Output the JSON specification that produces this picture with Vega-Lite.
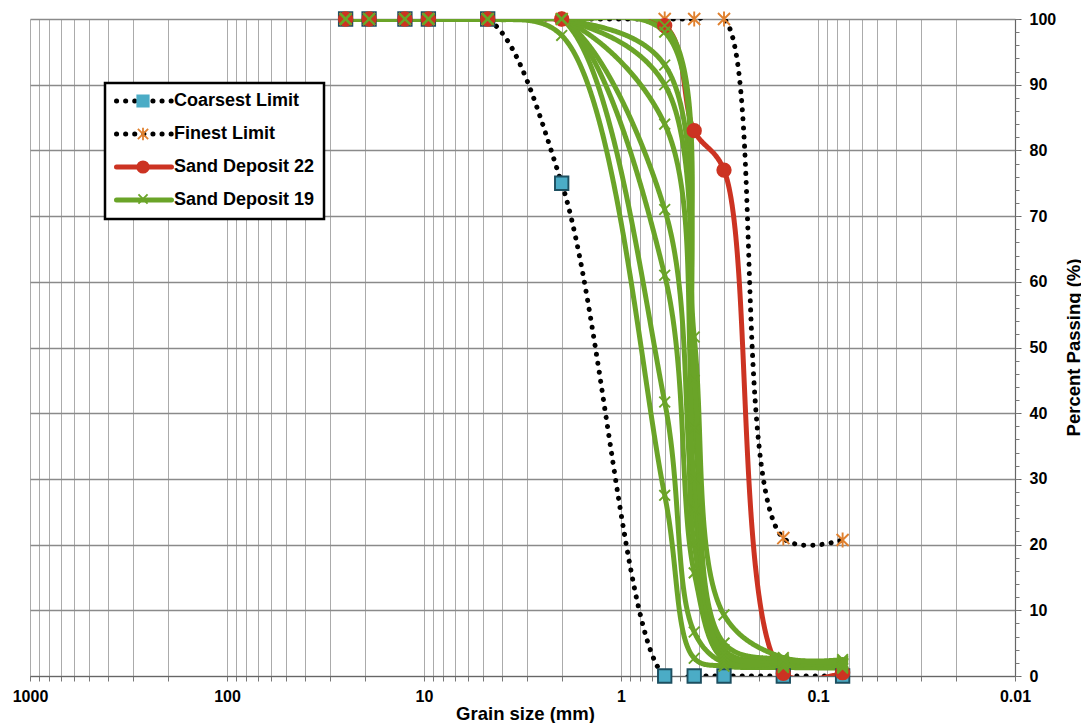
{
  "$schema": "https://vega.github.io/schema/vega-lite/v6.json",
  "width": 985,
  "height": 657,
  "autosize": {"type": "none"},
  "padding": {"left": 30, "top": 19, "right": 66, "bottom": 47},
  "background": "white",
  "config": {"view": {"stroke": null}},
  "data": {"values": [
    {"series": "Coarsest Limit", "curve": "C", "size": 25, "pct": 100},
    {"series": "Coarsest Limit", "curve": "C", "size": 19, "pct": 100},
    {"series": "Coarsest Limit", "curve": "C", "size": 12.5, "pct": 100},
    {"series": "Coarsest Limit", "curve": "C", "size": 9.5, "pct": 100},
    {"series": "Coarsest Limit", "curve": "C", "size": 4.75, "pct": 100},
    {"series": "Coarsest Limit", "curve": "C", "size": 2, "pct": 75},
    {"series": "Coarsest Limit", "curve": "C", "size": 0.6, "pct": 0},
    {"series": "Coarsest Limit", "curve": "C", "size": 0.425, "pct": 0},
    {"series": "Coarsest Limit", "curve": "C", "size": 0.3, "pct": 0},
    {"series": "Coarsest Limit", "curve": "C", "size": 0.15, "pct": 0},
    {"series": "Coarsest Limit", "curve": "C", "size": 0.075, "pct": 0},
    {"series": "Finest Limit", "curve": "F", "size": 25, "pct": 100},
    {"series": "Finest Limit", "curve": "F", "size": 19, "pct": 100},
    {"series": "Finest Limit", "curve": "F", "size": 12.5, "pct": 100},
    {"series": "Finest Limit", "curve": "F", "size": 9.5, "pct": 100},
    {"series": "Finest Limit", "curve": "F", "size": 4.75, "pct": 100},
    {"series": "Finest Limit", "curve": "F", "size": 2, "pct": 100},
    {"series": "Finest Limit", "curve": "F", "size": 0.6, "pct": 100},
    {"series": "Finest Limit", "curve": "F", "size": 0.425, "pct": 100},
    {"series": "Finest Limit", "curve": "F", "size": 0.3, "pct": 100},
    {"series": "Finest Limit", "curve": "F", "size": 0.15, "pct": 21},
    {"series": "Finest Limit", "curve": "F", "size": 0.075, "pct": 20.7},
    {"series": "Sand Deposit 22", "curve": "R", "size": 25, "pct": 100},
    {"series": "Sand Deposit 22", "curve": "R", "size": 19, "pct": 100},
    {"series": "Sand Deposit 22", "curve": "R", "size": 12.5, "pct": 100},
    {"series": "Sand Deposit 22", "curve": "R", "size": 9.5, "pct": 100},
    {"series": "Sand Deposit 22", "curve": "R", "size": 4.75, "pct": 100},
    {"series": "Sand Deposit 22", "curve": "R", "size": 2, "pct": 100},
    {"series": "Sand Deposit 22", "curve": "R", "size": 0.6, "pct": 99},
    {"series": "Sand Deposit 22", "curve": "R", "size": 0.425, "pct": 83},
    {"series": "Sand Deposit 22", "curve": "R", "size": 0.3, "pct": 77},
    {"series": "Sand Deposit 22", "curve": "R", "size": 0.15, "pct": 0.4},
    {"series": "Sand Deposit 22", "curve": "R", "size": 0.075, "pct": 0.5},
    {"series": "Sand Deposit 19", "curve": "G1", "size": 25, "pct": 100},
    {"series": "Sand Deposit 19", "curve": "G1", "size": 19, "pct": 100},
    {"series": "Sand Deposit 19", "curve": "G1", "size": 12.5, "pct": 100},
    {"series": "Sand Deposit 19", "curve": "G1", "size": 9.5, "pct": 100},
    {"series": "Sand Deposit 19", "curve": "G1", "size": 4.75, "pct": 100},
    {"series": "Sand Deposit 19", "curve": "G1", "size": 2, "pct": 97.5},
    {"series": "Sand Deposit 19", "curve": "G1", "size": 0.6, "pct": 27.5},
    {"series": "Sand Deposit 19", "curve": "G1", "size": 0.425, "pct": 2.7},
    {"series": "Sand Deposit 19", "curve": "G1", "size": 0.3, "pct": 1.5},
    {"series": "Sand Deposit 19", "curve": "G1", "size": 0.15, "pct": 1.3},
    {"series": "Sand Deposit 19", "curve": "G1", "size": 0.075, "pct": 1.2},
    {"series": "Sand Deposit 19", "curve": "G2", "size": 25, "pct": 100},
    {"series": "Sand Deposit 19", "curve": "G2", "size": 19, "pct": 100},
    {"series": "Sand Deposit 19", "curve": "G2", "size": 12.5, "pct": 100},
    {"series": "Sand Deposit 19", "curve": "G2", "size": 9.5, "pct": 100},
    {"series": "Sand Deposit 19", "curve": "G2", "size": 4.75, "pct": 100},
    {"series": "Sand Deposit 19", "curve": "G2", "size": 2, "pct": 100},
    {"series": "Sand Deposit 19", "curve": "G2", "size": 0.6, "pct": 41.7},
    {"series": "Sand Deposit 19", "curve": "G2", "size": 0.425, "pct": 6.7},
    {"series": "Sand Deposit 19", "curve": "G2", "size": 0.3, "pct": 2},
    {"series": "Sand Deposit 19", "curve": "G2", "size": 0.15, "pct": 1.5},
    {"series": "Sand Deposit 19", "curve": "G2", "size": 0.075, "pct": 1.4},
    {"series": "Sand Deposit 19", "curve": "G3", "size": 25, "pct": 100},
    {"series": "Sand Deposit 19", "curve": "G3", "size": 19, "pct": 100},
    {"series": "Sand Deposit 19", "curve": "G3", "size": 12.5, "pct": 100},
    {"series": "Sand Deposit 19", "curve": "G3", "size": 9.5, "pct": 100},
    {"series": "Sand Deposit 19", "curve": "G3", "size": 4.75, "pct": 100},
    {"series": "Sand Deposit 19", "curve": "G3", "size": 2, "pct": 100},
    {"series": "Sand Deposit 19", "curve": "G3", "size": 0.6, "pct": 61},
    {"series": "Sand Deposit 19", "curve": "G3", "size": 0.425, "pct": 15.7},
    {"series": "Sand Deposit 19", "curve": "G3", "size": 0.3, "pct": 2.5},
    {"series": "Sand Deposit 19", "curve": "G3", "size": 0.15, "pct": 1.8},
    {"series": "Sand Deposit 19", "curve": "G3", "size": 0.075, "pct": 1.6},
    {"series": "Sand Deposit 19", "curve": "G4", "size": 25, "pct": 100},
    {"series": "Sand Deposit 19", "curve": "G4", "size": 19, "pct": 100},
    {"series": "Sand Deposit 19", "curve": "G4", "size": 12.5, "pct": 100},
    {"series": "Sand Deposit 19", "curve": "G4", "size": 9.5, "pct": 100},
    {"series": "Sand Deposit 19", "curve": "G4", "size": 4.75, "pct": 100},
    {"series": "Sand Deposit 19", "curve": "G4", "size": 2, "pct": 100},
    {"series": "Sand Deposit 19", "curve": "G4", "size": 0.6, "pct": 71},
    {"series": "Sand Deposit 19", "curve": "G4", "size": 0.425, "pct": 25.3},
    {"series": "Sand Deposit 19", "curve": "G4", "size": 0.3, "pct": 3},
    {"series": "Sand Deposit 19", "curve": "G4", "size": 0.15, "pct": 2},
    {"series": "Sand Deposit 19", "curve": "G4", "size": 0.075, "pct": 1.8},
    {"series": "Sand Deposit 19", "curve": "G5", "size": 25, "pct": 100},
    {"series": "Sand Deposit 19", "curve": "G5", "size": 19, "pct": 100},
    {"series": "Sand Deposit 19", "curve": "G5", "size": 12.5, "pct": 100},
    {"series": "Sand Deposit 19", "curve": "G5", "size": 9.5, "pct": 100},
    {"series": "Sand Deposit 19", "curve": "G5", "size": 4.75, "pct": 100},
    {"series": "Sand Deposit 19", "curve": "G5", "size": 2, "pct": 100},
    {"series": "Sand Deposit 19", "curve": "G5", "size": 0.6, "pct": 84},
    {"series": "Sand Deposit 19", "curve": "G5", "size": 0.425, "pct": 37.7},
    {"series": "Sand Deposit 19", "curve": "G5", "size": 0.3, "pct": 4},
    {"series": "Sand Deposit 19", "curve": "G5", "size": 0.15, "pct": 2.2},
    {"series": "Sand Deposit 19", "curve": "G5", "size": 0.075, "pct": 2},
    {"series": "Sand Deposit 19", "curve": "G6", "size": 25, "pct": 100},
    {"series": "Sand Deposit 19", "curve": "G6", "size": 19, "pct": 100},
    {"series": "Sand Deposit 19", "curve": "G6", "size": 12.5, "pct": 100},
    {"series": "Sand Deposit 19", "curve": "G6", "size": 9.5, "pct": 100},
    {"series": "Sand Deposit 19", "curve": "G6", "size": 4.75, "pct": 100},
    {"series": "Sand Deposit 19", "curve": "G6", "size": 2, "pct": 100},
    {"series": "Sand Deposit 19", "curve": "G6", "size": 0.6, "pct": 90},
    {"series": "Sand Deposit 19", "curve": "G6", "size": 0.425, "pct": 20},
    {"series": "Sand Deposit 19", "curve": "G6", "size": 0.3, "pct": 2.5},
    {"series": "Sand Deposit 19", "curve": "G6", "size": 0.15, "pct": 2},
    {"series": "Sand Deposit 19", "curve": "G6", "size": 0.075, "pct": 1.8},
    {"series": "Sand Deposit 19", "curve": "G7", "size": 25, "pct": 100},
    {"series": "Sand Deposit 19", "curve": "G7", "size": 19, "pct": 100},
    {"series": "Sand Deposit 19", "curve": "G7", "size": 12.5, "pct": 100},
    {"series": "Sand Deposit 19", "curve": "G7", "size": 9.5, "pct": 100},
    {"series": "Sand Deposit 19", "curve": "G7", "size": 4.75, "pct": 100},
    {"series": "Sand Deposit 19", "curve": "G7", "size": 2, "pct": 100},
    {"series": "Sand Deposit 19", "curve": "G7", "size": 0.6, "pct": 93},
    {"series": "Sand Deposit 19", "curve": "G7", "size": 0.425, "pct": 30},
    {"series": "Sand Deposit 19", "curve": "G7", "size": 0.3, "pct": 3.5},
    {"series": "Sand Deposit 19", "curve": "G7", "size": 0.15, "pct": 2.3},
    {"series": "Sand Deposit 19", "curve": "G7", "size": 0.075, "pct": 2},
    {"series": "Sand Deposit 19", "curve": "G8", "size": 25, "pct": 100},
    {"series": "Sand Deposit 19", "curve": "G8", "size": 19, "pct": 100},
    {"series": "Sand Deposit 19", "curve": "G8", "size": 12.5, "pct": 100},
    {"series": "Sand Deposit 19", "curve": "G8", "size": 9.5, "pct": 100},
    {"series": "Sand Deposit 19", "curve": "G8", "size": 4.75, "pct": 100},
    {"series": "Sand Deposit 19", "curve": "G8", "size": 2, "pct": 100},
    {"series": "Sand Deposit 19", "curve": "G8", "size": 0.6, "pct": 98},
    {"series": "Sand Deposit 19", "curve": "G8", "size": 0.425, "pct": 51.6},
    {"series": "Sand Deposit 19", "curve": "G8", "size": 0.3, "pct": 9.3},
    {"series": "Sand Deposit 19", "curve": "G8", "size": 0.15, "pct": 2.8},
    {"series": "Sand Deposit 19", "curve": "G8", "size": 0.075, "pct": 2.5},
    {"series": "Sand Deposit 19", "curve": "G9", "size": 25, "pct": 100},
    {"series": "Sand Deposit 19", "curve": "G9", "size": 19, "pct": 100},
    {"series": "Sand Deposit 19", "curve": "G9", "size": 12.5, "pct": 100},
    {"series": "Sand Deposit 19", "curve": "G9", "size": 9.5, "pct": 100},
    {"series": "Sand Deposit 19", "curve": "G9", "size": 4.75, "pct": 100},
    {"series": "Sand Deposit 19", "curve": "G9", "size": 2, "pct": 100},
    {"series": "Sand Deposit 19", "curve": "G9", "size": 0.6, "pct": 99},
    {"series": "Sand Deposit 19", "curve": "G9", "size": 0.425, "pct": 45},
    {"series": "Sand Deposit 19", "curve": "G9", "size": 0.3, "pct": 5},
    {"series": "Sand Deposit 19", "curve": "G9", "size": 0.15, "pct": 2.5},
    {"series": "Sand Deposit 19", "curve": "G9", "size": 0.075, "pct": 2.2}
  ]},
  "layer": [
    {
      "mark": {"type": "line", "interpolate": "catmull-rom", "strokeCap": "round", "strokeJoin": "round", "clip": true},
      "encoding": {
        "x": {
          "field": "size", "type": "quantitative",
          "scale": {"type": "log", "domain": [0.01, 1000], "reverse": true, "nice": false},
          "axis": {
            "orient": "bottom",
            "values": [0.01,0.02,0.03,0.04,0.05,0.06,0.07,0.08,0.09,0.1,0.2,0.3,0.4,0.5,0.6,0.7,0.8,0.9,1,2,3,4,5,6,7,8,9,10,20,30,40,50,60,70,80,90,100,200,300,400,500,600,700,800,900,1000],
            "labelExpr": "datum.value == 1000 ? '1000' : datum.value == 100 ? '100' : datum.value == 10 ? '10' : datum.value == 1 ? '1' : datum.value == 0.1 ? '0.1' : datum.value == 0.01 ? '0.01' : ''",
            "labelOverlap": false, "labelFlush": false, "labelBound": false,
            "grid": true, "gridColor": "#ababab", "gridWidth": 1,
            "tickSize": 5, "tickColor": "#777777", "domainColor": "#666666", "domainWidth": 1.2,
            "labelFont": "Liberation Sans", "labelFontSize": 16, "labelFontWeight": "bold", "labelColor": "black", "labelPadding": 7,
            "title": "Grain size (mm)", "titleFont": "Liberation Sans", "titleFontSize": 18.5, "titleFontWeight": "bold", "titleColor": "black",
            "titleX": 495, "titleY": 43, "titleBaseline": "alphabetic", "titleAlign": "center"
          }
        },
        "y": {
          "field": "pct", "type": "quantitative",
          "scale": {"domain": [0, 100], "nice": false, "zero": false},
          "axis": {
            "orient": "right",
            "values": [0,10,20,30,40,50,60,70,80,90,100],
            "grid": true, "gridColor": "#8a8a8a", "gridWidth": 1.3,
            "tickSize": 6, "tickColor": "#666666", "domainColor": "#666666", "domainWidth": 1.2,
            "labelFont": "Liberation Sans", "labelFontSize": 16, "labelFontWeight": "bold", "labelColor": "black", "labelPadding": 8,
            "title": "Percent Passing (%)", "titleFont": "Liberation Sans", "titleFontSize": 18.5, "titleFontWeight": "bold", "titleColor": "black",
            "titleAngle": 270, "titleBaseline": "alphabetic", "titleX": 64, "titleY": 328
          }
        },
        "detail": {"field": "curve"},
        "color": {
          "field": "series", "type": "nominal",
          "scale": {"domain": ["Coarsest Limit", "Finest Limit", "Sand Deposit 22", "Sand Deposit 19"], "range": ["#000000", "#000000", "#cc3322", "#6aa428"]},
          "legend": {
            "title": null, "orient": "none", "legendX": 75, "legendY": 64,
            "fillColor": "white", "strokeColor": "black", "padding": 9,
            "symbolType": "M-5.5,0L5.5,0", "symbolSize": 100, "symbolOffset": 21,
            "labelOffset": 21, "labelFont": "Liberation Sans", "labelFontSize": 18, "labelFontWeight": "bold", "labelColor": "black",
            "rowPadding": 13,
            "encode": {"legend": {"update": {"strokeWidth": {"value": 2.5}}}, "symbols": {"update": {"strokeCap": {"value": "round"}}}}
          }
        },
        "strokeDash": {
          "field": "series", "type": "nominal",
          "scale": {"domain": ["Coarsest Limit", "Finest Limit", "Sand Deposit 22", "Sand Deposit 19"], "range": [[0.1, 9], [0.1, 9], [1, 0], [1, 0]]}
        },
        "strokeWidth": {
          "field": "series", "type": "ordinal",
          "scale": {"domain": ["Coarsest Limit", "Finest Limit", "Sand Deposit 22", "Sand Deposit 19"], "range": [5, 5, 2.5, 3.2]}
        }
      }
    },
    {
      "mark": {"type": "point", "size": 180, "opacity": 1, "strokeWidth": 1.9, "filled": true},
      "encoding": {
        "x": {"field": "size", "type": "quantitative"},
        "y": {
          "field": "pct", "type": "quantitative",
          "axis": {
            "orient": "right",
            "values": [0,2,4,6,8,10,12,14,16,18,20,22,24,26,28,30,32,34,36,38,40,42,44,46,48,50,52,54,56,58,60,62,64,66,68,70,72,74,76,78,80,82,84,86,88,90,92,94,96,98,100],
            "grid": false, "labels": false, "domain": false, "title": null, "tickSize": 4, "tickColor": "#777777"
          }
        },
        "shape": {
          "field": "series", "type": "nominal",
          "sort": ["Coarsest Limit", "Finest Limit", "Sand Deposit 22", "Sand Deposit 19"],
          "scale": {"range": ["square", "M-0.9,-0.9L0.9,0.9M-0.9,0.9L0.9,-0.9M0,-1.1L0,1.1", "circle", "M-0.8,-0.8L0.8,0.8M-0.8,0.8L0.8,-0.8"]},
          "legend": {
            "title": null, "orient": "none", "legendX": 75, "legendY": 64, "padding": 9,
            "symbolSize": 130, "symbolOffset": 20, "symbolStrokeWidth": 1.8, "symbolOpacity": 1,
            "symbolFillColor": {"expr": "datum.value === 'Coarsest Limit' ? '#4bacc6' : datum.value === 'Sand Deposit 22' ? '#cc3322' : 'transparent'"},
            "symbolStrokeColor": {"expr": "datum.value === 'Coarsest Limit' ? '#4bacc6' : datum.value === 'Finest Limit' ? '#e0812f' : datum.value === 'Sand Deposit 22' ? '#cc3322' : '#6aa428'"},
            "labelOffset": 21, "labelFont": "Liberation Sans", "labelFontSize": 18, "labelFontWeight": "bold", "labelColor": "transparent",
            "rowPadding": 13
          }
        },
        "fill": {
          "field": "series", "type": "nominal",
          "sort": ["Coarsest Limit", "Finest Limit", "Sand Deposit 22", "Sand Deposit 19"],
          "scale": {"range": ["#4bacc6", "transparent", "#cc3322", "transparent"]},
          "legend": null
        },
        "stroke": {
          "field": "series", "type": "nominal",
          "sort": ["Coarsest Limit", "Finest Limit", "Sand Deposit 22", "Sand Deposit 19"],
          "scale": {"range": ["#1d4f60", "#e0812f", "#cc3322", "#6aa428"]},
          "legend": null
        }
      }
    }
  ],
  "resolve": {"axis": {"y": "independent"}}
}
